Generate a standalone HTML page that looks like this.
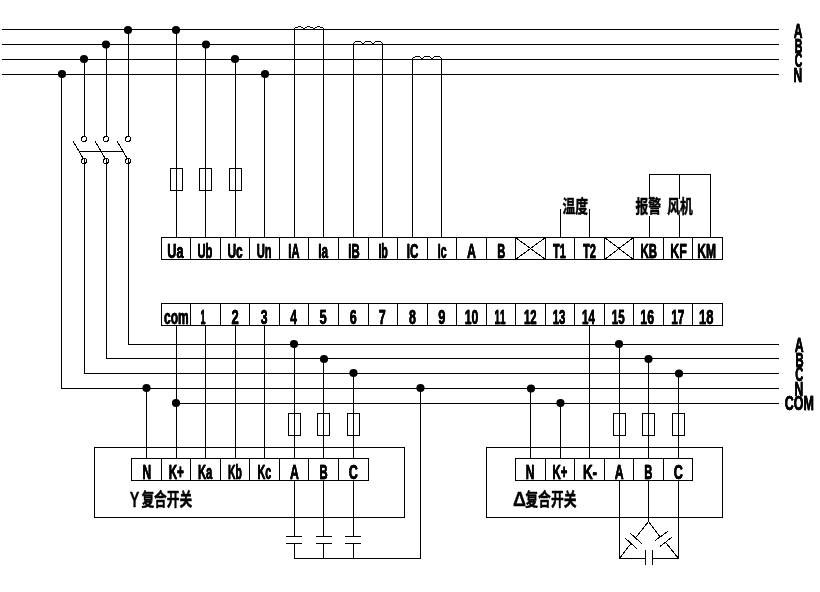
<!DOCTYPE html>
<html lang="zh"><head><meta charset="utf-8"><title>复合开关接线图</title>
<style>
html,body{margin:0;padding:0;background:#fff;}
body{width:820px;height:592px;overflow:hidden;}
svg{display:block;will-change:transform;}
.crisp{shape-rendering:crispEdges;fill:#000;}
circle{fill:#000;}
circle.o{fill:none;stroke:#000;stroke-width:1;shape-rendering:crispEdges;}
.l{stroke:#000;stroke-width:1;fill:none;shape-rendering:crispEdges;}
text{font-kerning:none;font-family:"Liberation Sans",sans-serif;font-weight:bold;fill:#000;stroke:#000;stroke-linejoin:round;}
#labels{filter:drop-shadow(0.7px 0 0 #000);}
text.cjk{font-family:"Liberation Sans","Noto Sans CJK SC",sans-serif;font-weight:bold;fill:#000;stroke:#000;}
</style></head><body>
<svg width="820" height="592" viewBox="0 0 820 592">
<g class="crisp">
<rect x="2" y="29" width="777" height="1"/>
<rect x="2" y="44" width="777" height="1"/>
<rect x="2" y="59" width="777" height="1"/>
<rect x="2" y="74" width="777" height="1"/>
<rect x="61" y="74" width="1" height="315"/>
<rect x="84" y="59" width="1" height="78"/>
<rect x="84" y="158" width="1" height="216"/>
<rect x="106" y="44" width="1" height="93"/>
<rect x="106" y="158" width="1" height="201"/>
<rect x="128" y="29" width="1" height="108"/>
<rect x="128" y="158" width="1" height="187"/>
<rect x="61" y="388" width="718" height="1"/>
<rect x="84" y="373" width="695" height="1"/>
<rect x="106" y="358" width="673" height="1"/>
<rect x="128" y="344" width="651" height="1"/>
<rect x="176" y="403" width="603" height="1"/>
<rect x="79" y="151" width="45" height="1"/>
<rect x="176" y="29" width="1" height="209"/>
<rect x="205" y="44" width="1" height="194"/>
<rect x="235" y="59" width="1" height="179"/>
<rect x="264" y="74" width="1" height="164"/>
<rect x="170" y="168" width="13" height="1"/>
<rect x="170" y="190" width="13" height="1"/>
<rect x="170" y="168" width="1" height="23"/>
<rect x="182" y="168" width="1" height="23"/>
<rect x="199" y="168" width="13" height="1"/>
<rect x="199" y="190" width="13" height="1"/>
<rect x="199" y="168" width="1" height="23"/>
<rect x="211" y="168" width="1" height="23"/>
<rect x="229" y="168" width="13" height="1"/>
<rect x="229" y="190" width="13" height="1"/>
<rect x="229" y="168" width="1" height="23"/>
<rect x="241" y="168" width="1" height="23"/>
<rect x="294" y="29" width="1" height="209"/>
<rect x="323" y="29" width="1" height="209"/>
<rect x="353" y="44" width="1" height="194"/>
<rect x="382" y="44" width="1" height="194"/>
<rect x="412" y="59" width="1" height="179"/>
<rect x="441" y="59" width="1" height="179"/>
<rect x="161" y="237" width="562" height="1"/>
<rect x="161" y="259" width="562" height="1"/>
<rect x="161" y="237" width="1" height="23"/>
<rect x="190" y="237" width="1" height="23"/>
<rect x="220" y="237" width="1" height="23"/>
<rect x="249" y="237" width="1" height="23"/>
<rect x="279" y="237" width="1" height="23"/>
<rect x="308" y="237" width="1" height="23"/>
<rect x="338" y="237" width="1" height="23"/>
<rect x="368" y="237" width="1" height="23"/>
<rect x="397" y="237" width="1" height="23"/>
<rect x="427" y="237" width="1" height="23"/>
<rect x="456" y="237" width="1" height="23"/>
<rect x="486" y="237" width="1" height="23"/>
<rect x="515" y="237" width="1" height="23"/>
<rect x="545" y="237" width="1" height="23"/>
<rect x="574" y="237" width="1" height="23"/>
<rect x="604" y="237" width="1" height="23"/>
<rect x="633" y="237" width="1" height="23"/>
<rect x="663" y="237" width="1" height="23"/>
<rect x="692" y="237" width="1" height="23"/>
<rect x="722" y="237" width="1" height="23"/>
<rect x="161" y="303" width="562" height="1"/>
<rect x="161" y="325" width="562" height="1"/>
<rect x="161" y="303" width="1" height="23"/>
<rect x="190" y="303" width="1" height="23"/>
<rect x="220" y="303" width="1" height="23"/>
<rect x="249" y="303" width="1" height="23"/>
<rect x="279" y="303" width="1" height="23"/>
<rect x="308" y="303" width="1" height="23"/>
<rect x="338" y="303" width="1" height="23"/>
<rect x="368" y="303" width="1" height="23"/>
<rect x="397" y="303" width="1" height="23"/>
<rect x="427" y="303" width="1" height="23"/>
<rect x="456" y="303" width="1" height="23"/>
<rect x="486" y="303" width="1" height="23"/>
<rect x="515" y="303" width="1" height="23"/>
<rect x="545" y="303" width="1" height="23"/>
<rect x="574" y="303" width="1" height="23"/>
<rect x="604" y="303" width="1" height="23"/>
<rect x="633" y="303" width="1" height="23"/>
<rect x="663" y="303" width="1" height="23"/>
<rect x="692" y="303" width="1" height="23"/>
<rect x="722" y="303" width="1" height="23"/>
<rect x="560" y="209" width="1" height="29"/>
<rect x="589" y="209" width="1" height="29"/>
<rect x="649" y="174" width="1" height="24"/>
<rect x="649" y="216" width="1" height="22"/>
<rect x="679" y="174" width="1" height="25"/>
<rect x="679" y="215" width="1" height="23"/>
<rect x="710" y="174" width="1" height="64"/>
<rect x="649" y="174" width="62" height="1"/>
<rect x="176" y="325" width="1" height="134"/>
<rect x="205" y="325" width="1" height="134"/>
<rect x="235" y="325" width="1" height="134"/>
<rect x="264" y="325" width="1" height="134"/>
<rect x="589" y="325" width="1" height="134"/>
<rect x="94" y="447" width="311" height="1"/>
<rect x="94" y="517" width="311" height="1"/>
<rect x="94" y="447" width="1" height="71"/>
<rect x="404" y="447" width="1" height="71"/>
<rect x="131" y="458" width="238" height="1"/>
<rect x="131" y="480" width="238" height="1"/>
<rect x="131" y="458" width="1" height="23"/>
<rect x="161" y="458" width="1" height="23"/>
<rect x="190" y="458" width="1" height="23"/>
<rect x="220" y="458" width="1" height="23"/>
<rect x="249" y="458" width="1" height="23"/>
<rect x="279" y="458" width="1" height="23"/>
<rect x="308" y="458" width="1" height="23"/>
<rect x="338" y="458" width="1" height="23"/>
<rect x="368" y="458" width="1" height="23"/>
<rect x="146" y="388" width="1" height="71"/>
<rect x="294" y="344" width="1" height="115"/>
<rect x="288" y="413" width="13" height="1"/>
<rect x="288" y="435" width="13" height="1"/>
<rect x="288" y="413" width="1" height="23"/>
<rect x="300" y="413" width="1" height="23"/>
<rect x="294" y="480" width="1" height="57"/>
<rect x="286" y="536" width="16" height="1"/>
<rect x="286" y="543" width="16" height="1"/>
<rect x="294" y="543" width="1" height="16"/>
<rect x="323" y="358" width="1" height="101"/>
<rect x="317" y="413" width="13" height="1"/>
<rect x="317" y="435" width="13" height="1"/>
<rect x="317" y="413" width="1" height="23"/>
<rect x="329" y="413" width="1" height="23"/>
<rect x="323" y="480" width="1" height="57"/>
<rect x="316" y="536" width="16" height="1"/>
<rect x="316" y="543" width="16" height="1"/>
<rect x="323" y="543" width="1" height="16"/>
<rect x="353" y="373" width="1" height="86"/>
<rect x="347" y="413" width="13" height="1"/>
<rect x="347" y="435" width="13" height="1"/>
<rect x="347" y="413" width="1" height="23"/>
<rect x="359" y="413" width="1" height="23"/>
<rect x="353" y="480" width="1" height="57"/>
<rect x="345" y="536" width="16" height="1"/>
<rect x="345" y="543" width="16" height="1"/>
<rect x="353" y="543" width="1" height="16"/>
<rect x="294" y="558" width="127" height="1"/>
<rect x="420" y="388" width="1" height="171"/>
<rect x="486" y="447" width="237" height="1"/>
<rect x="486" y="517" width="237" height="1"/>
<rect x="486" y="447" width="1" height="71"/>
<rect x="722" y="447" width="1" height="71"/>
<rect x="515" y="458" width="178" height="1"/>
<rect x="515" y="480" width="178" height="1"/>
<rect x="515" y="458" width="1" height="23"/>
<rect x="545" y="458" width="1" height="23"/>
<rect x="574" y="458" width="1" height="23"/>
<rect x="604" y="458" width="1" height="23"/>
<rect x="633" y="458" width="1" height="23"/>
<rect x="663" y="458" width="1" height="23"/>
<rect x="692" y="458" width="1" height="23"/>
<rect x="530" y="388" width="1" height="71"/>
<rect x="560" y="403" width="1" height="56"/>
<rect x="619" y="344" width="1" height="115"/>
<rect x="613" y="413" width="13" height="1"/>
<rect x="613" y="435" width="13" height="1"/>
<rect x="613" y="413" width="1" height="23"/>
<rect x="625" y="413" width="1" height="23"/>
<rect x="648" y="358" width="1" height="101"/>
<rect x="642" y="413" width="13" height="1"/>
<rect x="642" y="435" width="13" height="1"/>
<rect x="642" y="413" width="1" height="23"/>
<rect x="654" y="413" width="1" height="23"/>
<rect x="678" y="373" width="1" height="86"/>
<rect x="672" y="413" width="13" height="1"/>
<rect x="672" y="435" width="13" height="1"/>
<rect x="672" y="413" width="1" height="23"/>
<rect x="684" y="413" width="1" height="23"/>
<rect x="619" y="480" width="1" height="79"/>
<rect x="678" y="480" width="1" height="79"/>
<rect x="648" y="480" width="1" height="42"/>
<rect x="619" y="558" width="27" height="1"/>
<rect x="652" y="558" width="27" height="1"/>
<rect x="645" y="550" width="1" height="15"/>
<rect x="652" y="550" width="1" height="15"/>
</g>
<circle cx="128" cy="30" r="4.1"/>
<circle cx="106" cy="44.5" r="4.1"/>
<circle cx="84" cy="59" r="4.1"/>
<circle cx="62" cy="74" r="4.1"/>
<circle cx="176" cy="30" r="4.1"/>
<circle cx="206" cy="44.5" r="4.1"/>
<circle cx="235" cy="59" r="4.1"/>
<circle cx="265" cy="74" r="4.1"/>
<circle cx="294" cy="344" r="4.1"/>
<circle cx="324" cy="359" r="4.1"/>
<circle cx="353.5" cy="373" r="4.1"/>
<circle cx="146.5" cy="388" r="4.1"/>
<circle cx="176" cy="403" r="4.1"/>
<circle cx="420.5" cy="388" r="4.1"/>
<circle cx="531" cy="388.5" r="4.1"/>
<circle cx="560.5" cy="403" r="4.1"/>
<circle cx="619" cy="344" r="4.1"/>
<circle cx="648.5" cy="359" r="4.1"/>
<circle cx="679" cy="373.5" r="4.1"/>
<circle class="o" cx="84" cy="139" r="2.5"/>
<circle class="o" cx="84" cy="161" r="2.5"/>
<line class="l" x1="73" y1="141" x2="83.5" y2="159"/>
<circle class="o" cx="106" cy="139" r="2.5"/>
<circle class="o" cx="106" cy="161" r="2.5"/>
<line class="l" x1="95" y1="141" x2="105.5" y2="159"/>
<circle class="o" cx="128" cy="139" r="2.5"/>
<circle class="o" cx="128" cy="161" r="2.5"/>
<line class="l" x1="117" y1="141" x2="127.5" y2="159"/>
<line class="l" x1="515.5" y1="237.5" x2="545.5" y2="259.5"/>
<line class="l" x1="515.5" y1="259.5" x2="545.5" y2="237.5"/>
<line class="l" x1="604.5" y1="237.5" x2="633.5" y2="259.5"/>
<line class="l" x1="604.5" y1="259.5" x2="633.5" y2="237.5"/>
<g class="crisp">
<rect x="294" y="28" width="1" height="1"/>
<rect x="295" y="27" width="3" height="1"/>
<rect x="298" y="26" width="3" height="1"/>
<rect x="301" y="27" width="2" height="1"/>
<rect x="303" y="28" width="1" height="1"/>
<rect x="304" y="28" width="1" height="1"/>
<rect x="305" y="27" width="2" height="1"/>
<rect x="307" y="26" width="3" height="1"/>
<rect x="310" y="27" width="3" height="1"/>
<rect x="313" y="28" width="1" height="1"/>
<rect x="314" y="28" width="1" height="1"/>
<rect x="315" y="27" width="2" height="1"/>
<rect x="317" y="26" width="3" height="1"/>
<rect x="320" y="27" width="3" height="1"/>
<rect x="323" y="28" width="1" height="1"/>
<rect x="353" y="43" width="1" height="1"/>
<rect x="354" y="42" width="1" height="1"/>
<rect x="355" y="41" width="6" height="1"/>
<rect x="361" y="42" width="1" height="1"/>
<rect x="362" y="43" width="1" height="1"/>
<rect x="363" y="43" width="1" height="1"/>
<rect x="364" y="42" width="1" height="1"/>
<rect x="365" y="41" width="6" height="1"/>
<rect x="371" y="42" width="1" height="1"/>
<rect x="372" y="43" width="1" height="1"/>
<rect x="373" y="43" width="1" height="1"/>
<rect x="374" y="42" width="1" height="1"/>
<rect x="375" y="41" width="6" height="1"/>
<rect x="381" y="42" width="1" height="1"/>
<rect x="382" y="43" width="1" height="1"/>
<rect x="412" y="58" width="1" height="1"/>
<rect x="413" y="57" width="2" height="1"/>
<rect x="415" y="56" width="5" height="1"/>
<rect x="420" y="57" width="1" height="1"/>
<rect x="421" y="58" width="1" height="1"/>
<rect x="422" y="58" width="1" height="1"/>
<rect x="423" y="57" width="1" height="1"/>
<rect x="424" y="56" width="6" height="1"/>
<rect x="430" y="57" width="1" height="1"/>
<rect x="431" y="58" width="1" height="1"/>
<rect x="432" y="58" width="1" height="1"/>
<rect x="433" y="57" width="1" height="1"/>
<rect x="434" y="56" width="6" height="1"/>
<rect x="440" y="57" width="1" height="1"/>
<rect x="441" y="58" width="1" height="1"/>
</g>
<line class="l" x1="648.5" y1="521.5" x2="636.2" y2="537.2"/>
<line class="l" x1="630" y1="533" x2="642" y2="543.8"/>
<line class="l" x1="625" y1="538" x2="637" y2="548.8"/>
<line class="l" x1="631" y1="543.4" x2="619.5" y2="558.5"/>
<line class="l" x1="648.5" y1="521.5" x2="660.2" y2="537"/>
<line class="l" x1="655" y1="540.6" x2="668.1" y2="531.2"/>
<line class="l" x1="660" y1="546.5" x2="672" y2="537.1"/>
<line class="l" x1="666.2" y1="543.1" x2="678.5" y2="558.5"/>
<g id="labels">
<text transform="translate(167.36,258) scale(0.6165,1)" font-size="20.6" stroke-width="0.4">Ua</text>
<text transform="translate(197.43,258) scale(0.5470,1)" font-size="20.6" stroke-width="0.4">Ub</text>
<text transform="translate(227.40,258) scale(0.5825,1)" font-size="20.6" stroke-width="0.4">Uc</text>
<text transform="translate(256.74,258) scale(0.5445,1)" font-size="20.6" stroke-width="0.4">Un</text>
<text transform="translate(288.36,258) scale(0.5399,1)" font-size="20.6" stroke-width="0.4">IA</text>
<text transform="translate(318.33,258) scale(0.5694,1)" font-size="20.6" stroke-width="0.4">Ia</text>
<text transform="translate(348.35,258) scale(0.5512,1)" font-size="20.6" stroke-width="0.4">IB</text>
<text transform="translate(378.39,258) scale(0.5217,1)" font-size="20.6" stroke-width="0.4">Ib</text>
<text transform="translate(406.74,258) scale(0.5614,1)" font-size="20.6" stroke-width="0.4">IC</text>
<text transform="translate(437.70,258) scale(0.5129,1)" font-size="20.6" stroke-width="0.4">Ic</text>
<text transform="translate(467.11,258) scale(0.6048,1)" font-size="20.6" stroke-width="0.4">A</text>
<text transform="translate(497.16,258) scale(0.5400,1)" font-size="20.6" stroke-width="0.4">B</text>
<text transform="translate(552.98,258) scale(0.5289,1)" font-size="20.6" stroke-width="0.4">T1</text>
<text transform="translate(582.98,258) scale(0.5388,1)" font-size="20.6" stroke-width="0.4">T2</text>
<text transform="translate(640.54,258) scale(0.5568,1)" font-size="20.6" stroke-width="0.4">KB</text>
<text transform="translate(670.19,258) scale(0.6025,1)" font-size="20.6" stroke-width="0.4">KF</text>
<text transform="translate(697.31,258) scale(0.5829,1)" font-size="20.6" stroke-width="0.4">KM</text>
<text transform="translate(163.95,324) scale(0.5851,1)" font-size="20.6" stroke-width="0.4">com</text>
<text transform="translate(200.53,324) scale(0.4306,1)" font-size="20.6" stroke-width="0.4">1</text>
<text transform="translate(231.48,324) scale(0.6300,1)" font-size="20.6" stroke-width="0.4">2</text>
<text transform="translate(260.84,324) scale(0.5921,1)" font-size="20.6" stroke-width="0.4">3</text>
<text transform="translate(290.13,324) scale(0.5860,1)" font-size="20.6" stroke-width="0.4">4</text>
<text transform="translate(319.53,324) scale(0.6291,1)" font-size="20.6" stroke-width="0.4">5</text>
<text transform="translate(349.66,324) scale(0.6082,1)" font-size="20.6" stroke-width="0.4">6</text>
<text transform="translate(378.78,324) scale(0.6060,1)" font-size="20.6" stroke-width="0.4">7</text>
<text transform="translate(408.93,324) scale(0.6055,1)" font-size="20.6" stroke-width="0.4">8</text>
<text transform="translate(438.28,324) scale(0.6263,1)" font-size="20.6" stroke-width="0.4">9</text>
<text transform="translate(464.85,324) scale(0.5904,1)" font-size="20.6" stroke-width="0.4">10</text>
<text transform="translate(494.47,324) scale(0.4804,1)" font-size="20.6" stroke-width="0.4">11</text>
<text transform="translate(523.99,324) scale(0.5521,1)" font-size="20.6" stroke-width="0.4">12</text>
<text transform="translate(552.69,324) scale(0.5547,1)" font-size="20.6" stroke-width="0.4">13</text>
<text transform="translate(581.98,324) scale(0.5615,1)" font-size="20.6" stroke-width="0.4">14</text>
<text transform="translate(611.78,324) scale(0.5643,1)" font-size="20.6" stroke-width="0.4">15</text>
<text transform="translate(640.34,324) scale(0.5970,1)" font-size="20.6" stroke-width="0.4">16</text>
<text transform="translate(671.17,324) scale(0.5732,1)" font-size="20.6" stroke-width="0.4">17</text>
<text transform="translate(699.11,324) scale(0.6314,1)" font-size="20.6" stroke-width="0.4">18</text>
<text transform="translate(142.51,479) scale(0.5835,1)" font-size="20.6" stroke-width="0.4">N</text>
<text transform="translate(168.63,479) scale(0.5699,1)" font-size="20.6" stroke-width="0.4">K+</text>
<text transform="translate(197.96,479) scale(0.5454,1)" font-size="20.6" stroke-width="0.4">Ka</text>
<text transform="translate(228.01,479) scale(0.5032,1)" font-size="20.6" stroke-width="0.4">Kb</text>
<text transform="translate(257.38,479) scale(0.5293,1)" font-size="20.6" stroke-width="0.4">Kc</text>
<text transform="translate(290.01,479) scale(0.5977,1)" font-size="20.6" stroke-width="0.4">A</text>
<text transform="translate(319.55,479) scale(0.5477,1)" font-size="20.6" stroke-width="0.4">B</text>
<text transform="translate(348.80,479) scale(0.6129,1)" font-size="20.6" stroke-width="0.4">C</text>
<text transform="translate(525.81,479) scale(0.5835,1)" font-size="20.6" stroke-width="0.4">N</text>
<text transform="translate(552.55,479) scale(0.5539,1)" font-size="20.6" stroke-width="0.4">K+</text>
<text transform="translate(582.93,479) scale(0.6522,1)" font-size="20.6" stroke-width="0.4">K-</text>
<text transform="translate(614.81,479) scale(0.5977,1)" font-size="20.6" stroke-width="0.4">A</text>
<text transform="translate(644.35,479) scale(0.5477,1)" font-size="20.6" stroke-width="0.4">B</text>
<text transform="translate(673.80,479) scale(0.6129,1)" font-size="20.6" stroke-width="0.4">C</text>
<text transform="translate(793.82,38) scale(0.6169,1)" font-size="19.7" stroke-width="0.4">A</text>
<text transform="translate(794.70,52.6) scale(0.5397,1)" font-size="19.7" stroke-width="0.4">B</text>
<text transform="translate(794.67,67.2) scale(0.5346,1)" font-size="19.7" stroke-width="0.4">C</text>
<text transform="translate(793.52,81.8) scale(0.6093,1)" font-size="19.7" stroke-width="0.4">N</text>
<text transform="translate(794.82,352) scale(0.6242,1)" font-size="19.7" stroke-width="0.4">A</text>
<text transform="translate(795.56,366.6) scale(0.5719,1)" font-size="19.7" stroke-width="0.4">B</text>
<text transform="translate(795.26,381.2) scale(0.5648,1)" font-size="19.7" stroke-width="0.4">C</text>
<text transform="translate(794.41,395.8) scale(0.6176,1)" font-size="19.7" stroke-width="0.4">N</text>
<text transform="translate(784.72,410.4) scale(0.6330,1)" font-size="19.7" stroke-width="0.4">COM</text>
</g>
<text transform="translate(129.65,506.9) scale(0.6588,1)" font-size="21.8" stroke-width="0.3">Y</text>
<text class="cjk" transform="translate(562.5,213.4) scale(0.7072,1)" font-size="18.1" stroke-width="0.5">温度</text>
<text class="cjk" transform="translate(635.5,213.4) scale(0.7072,1)" font-size="18.1" stroke-width="0.5">报警</text>
<text class="cjk" transform="translate(667.3,213.4) scale(0.7072,1)" font-size="18.1" stroke-width="0.5">风机</text>
<text class="cjk" transform="translate(141.4,506.3) scale(0.7028,1)" font-size="18.1" stroke-width="0.5">复合开关</text>
<text class="cjk" transform="translate(525.3,506.3) scale(0.7077,1)" font-size="18.1" stroke-width="0.5">复合开关</text>
<text transform="translate(513,506) scale(0.9,1)" font-size="20" stroke-width="0.3">Δ</text>
</svg>
</body></html>
